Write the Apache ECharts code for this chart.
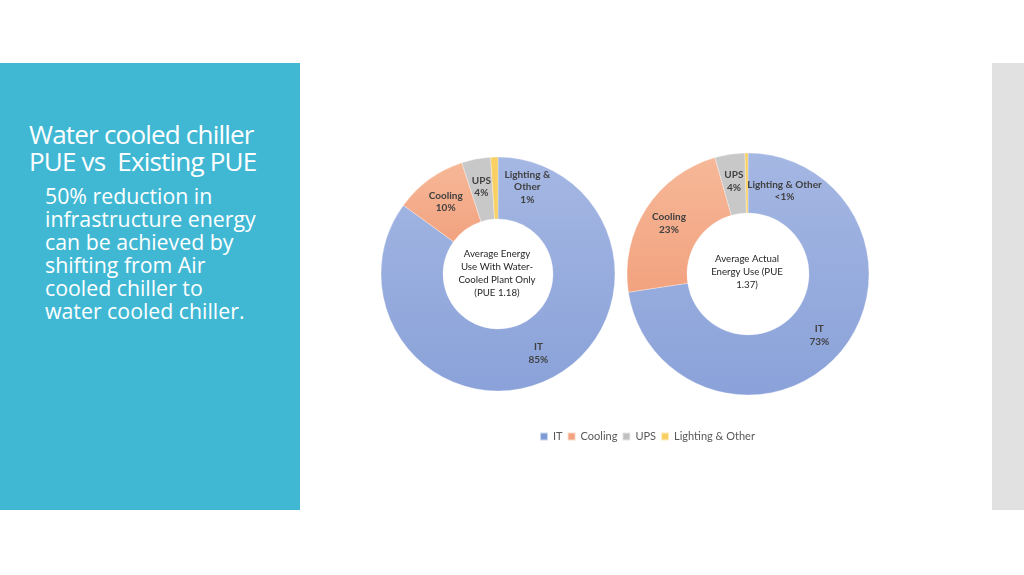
<!DOCTYPE html>
<html>
  <head>
    <meta charset="UTF-8">
    <script src="https://cdn.jsdelivr.net/npm/echarts@6/dist/echarts.min.js"></script>
    <title>Water cooled chiller PUE vs Existing PUE</title>
    <style>
      body { margin: 0; width: 1024px; height: 575px; background: #fff; position: relative; overflow: hidden; }
      #panel { position: absolute; left: 0; top: 63px; width: 300px; height: 447px; background: #40b8d4; }
      #strip { position: absolute; left: 992px; top: 63px; width: 32px; height: 447px; background: #e1e1e1; }
      #title { position: absolute; left: 29px; top: 121px; color: #fff; font-family: "Open Sans"; font-size: 26px; line-height: 27px; letter-spacing: -0.8px; white-space: pre; }
      #body { position: absolute; left: 45px; top: 184px; color: #fff; font-family: "Open Sans"; font-size: 21.3px; line-height: 23px; white-space: pre; }
      #main { position: absolute; left: 0; top: 0; width: 1024px; height: 575px; }
    </style>
  </head>
  <body>
    <div id="panel"></div>
    <div id="strip"></div>
    <div id="title">Water cooled chiller
PUE vs  Existing PUE</div>
    <div id="body">50% reduction in
infrastructure energy
can be achieved by
shifting from Air
cooled chiller to
water cooled chiller.</div>
    <div id="main"></div>
  </body>

  <script>
var categories = ['IT', 'Cooling', 'UPS', 'Lighting & Other'];
var waterCooled = [85, 10, 4, 1];
var actual = [72.6, 23, 4, 0.4];
var waterLabels = ['IT\n85%', 'Cooling\n10%', 'UPS\n4%', 'Lighting &\nOther\n1%'];
var actualLabels = ['IT\n73%', 'Cooling\n23%', 'UPS\n4%', 'Lighting & Other\n<1%'];
var waterCenter = 'Average Energy\nUse With Water-\nCooled Plant Only\n(PUE 1.18)';
var actualCenter = 'Average Actual\nEnergy Use (PUE\n1.37)';

var colors = [
  new echarts.graphic.LinearGradient(0, 0, 0, 1, [
    {offset: 0, color: '#a5b7e3'}, {offset: 1, color: '#8aa2d9'}]),
  new echarts.graphic.LinearGradient(0, 0, 0, 1, [
    {offset: 0, color: '#f6b898'}, {offset: 1, color: '#f2a27f'}]),
  '#c8c8c8',
  '#f9d063'
];
var legendColors = ['#7f9bd5', '#f2a27f', '#c0c0c0', '#f9d063'];

var labelStyle = {
  show: true,
  position: 'inside',
  color: '#404040',
  fontFamily: 'Lato',
  fontWeight: 'bold',
  fontSize: 10,
  lineHeight: 12.5
};

// the thin slice label is kept outside so it is not hidden, then moved next to its slice
function buildData(values, labels) {
  return values.map(function (v, i) {
    var d = {
      name: categories[i],
      value: v,
      label: {formatter: labels[i]},
      itemStyle: {color: colors[i]}
    };
    if (i === 3) d.label.position = 'outside';
    return d;
  });
}

function pieSeries(name, center, radius, data, lightShift) {
  return {
    name: name,
    type: 'pie',
    center: center,
    radius: radius,
    startAngle: 90,
    clockwise: true,
    avoidLabelOverlap: false,
    silent: true,
    animation: false,
    itemStyle: {borderColor: 'rgba(255,255,255,0.6)', borderWidth: 0.5},
    label: labelStyle,
    labelLine: {show: false},
    labelLayout: function (params) {
      if (params.dataIndex !== 3) return {};
      var r = params.rect;
      return {
        x: r.x + r.width / 2 + lightShift[0],
        y: r.y + r.height / 2 + lightShift[1],
        align: 'center',
        verticalAlign: 'middle'
      };
    },
    data: data
  };
}

var chart = echarts.init(document.getElementById('main'), null, {renderer: 'canvas'});

option = {
  backgroundColor: 'transparent',
  legend: {
    data: categories.map(function (c, i) {
      return {name: c, itemStyle: {color: legendColors[i]}};
    }),
    left: 534,
    top: 426,
    itemWidth: 8,
    itemHeight: 8,
    itemGap: 4,
    icon: 'rect',
    textStyle: {color: '#595959', fontFamily: 'Lato', fontSize: 11}
  },
  graphic: [
    {
      type: 'text',
      x: 497, y: 248,
      style: {text: waterCenter, fill: '#262626', font: '9.7px Lato', textAlign: 'center', lineHeight: 12.7}
    },
    {
      type: 'text',
      x: 747, y: 252,
      style: {text: actualCenter, fill: '#262626', font: '9.7px Lato', textAlign: 'center', lineHeight: 13}
    }
  ],
  series: [
    pieSeries('Water cooled', [498, 274], [55, 117], buildData(waterCooled, waterLabels), [33, -1]),
    pieSeries('Actual', [748, 274], [61, 121], buildData(actual, actualLabels), [38, 8])
  ]
};

chart.setOption(option);
  </script>
</html>
